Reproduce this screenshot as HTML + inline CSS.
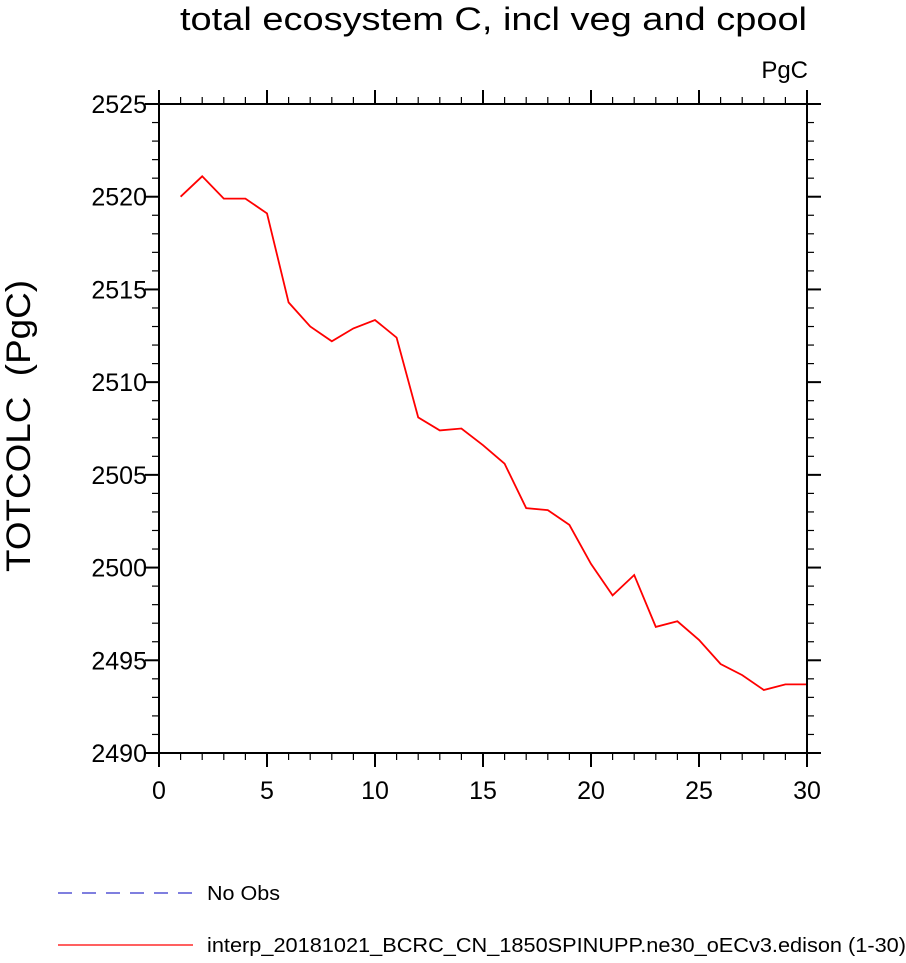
<!DOCTYPE html>
<html><head><meta charset="utf-8"><style>
body{margin:0;background:#fff;}
svg text{font-family:"Liberation Sans",Arial,sans-serif;fill:#000;}
</style></head><body>
<svg width="906" height="958" viewBox="0 0 906 958" xmlns="http://www.w3.org/2000/svg">
<text x="180" y="30" font-size="32" textLength="627" lengthAdjust="spacingAndGlyphs">total ecosystem C, incl veg and cpool</text>
<text x="808" y="78" font-size="24" text-anchor="end">PgC</text>
<text transform="translate(30,572) rotate(-90)" font-size="34" textLength="292" lengthAdjust="spacingAndGlyphs">TOTCOLC&#160;&#160;(PgC)</text>
<g id="axes"></g>
<path id="series" fill="none" stroke="#ff0000" stroke-width="1.8"/>
<rect x="159" y="104" width="648" height="649" fill="none" stroke="#000" stroke-width="2"/>
<g>
<line x1="58" y1="893" x2="193" y2="893" stroke="#3333cc" stroke-width="1.2" stroke-dasharray="14,10"/>
<text x="207" y="900" font-size="20" textLength="73" lengthAdjust="spacingAndGlyphs">No Obs</text>
<line x1="58" y1="945" x2="193" y2="945" stroke="#ff0000" stroke-width="1.2"/>
<text x="207" y="952" font-size="20" textLength="699" lengthAdjust="spacingAndGlyphs">interp_20181021_BCRC_CN_1850SPINUPP.ne30_oECv3.edison (1-30)</text>
</g>
</svg>
<script>
const years=[1,2,3,4,5,6,7,8,9,10,11,12,13,14,15,16,17,18,19,20,21,22,23,24,25,26,27,28,29,30];
const values=[2520.0,2521.1,2519.9,2519.9,2519.1,2514.3,2513.0,2512.2,2512.9,2513.35,2512.4,2508.1,2507.4,2507.5,2506.6,2505.6,2503.2,2503.1,2502.3,2500.2,2498.5,2499.6,2496.8,2497.1,2496.1,2494.8,2494.2,2493.4,2493.7,2493.7];
const xTicks=[0,5,10,15,20,25,30];
const yTicks=[2490,2495,2500,2505,2510,2515,2520,2525];
const X0=159,X1=807,Y0=753,Y1=104;
const xs=v=>X0+(v-0)/30*(X1-X0);
const ys=v=>Y0-(v-2490)/35*(Y0-Y1);
const NS="http://www.w3.org/2000/svg";
const g=document.getElementById('axes');
function ln(x1,y1,x2,y2,w){const l=document.createElementNS(NS,'line');l.setAttribute('x1',x1);l.setAttribute('y1',y1);l.setAttribute('x2',x2);l.setAttribute('y2',y2);l.setAttribute('stroke','#000');l.setAttribute('stroke-width',w);


g.appendChild(l);}
function tx(x,y,s,a,n){const t=document.createElementNS(NS,'text');t.setAttribute('x',x);t.setAttribute('y',y);t.setAttribute('font-size','25');t.setAttribute('text-anchor',a);t.textContent=s;


g.appendChild(t);}
for(let v=0;v<=30;v++){const x=xs(v);const maj=v%5==0;const L=maj?14:7;ln(x,Y0,x,Y0+L,maj?2:1.2);ln(x,Y1,x,Y1-L,maj?2:1.2);}
for(let v=2490;v<=2525;v++){const y=ys(v);const maj=v%5==0;const L=maj?14:7;ln(X0,y,X0-L,y,maj?2:1.2);ln(X1,y,X1+L,y,maj?2:1.2);}
xTicks.forEach(v=>tx(xs(v),Y0+46,String(v),'middle','x-tick-label'));
yTicks.forEach(v=>tx(X0-12,ys(v)+9,String(v),'end','y-tick-label'));
document.getElementById('series').setAttribute('d',years.map((yr,i)=>(i?'L':'M')+xs(yr).toFixed(1)+','+ys(values[i]).toFixed(1)).join(''));
</script>
</body></html>
